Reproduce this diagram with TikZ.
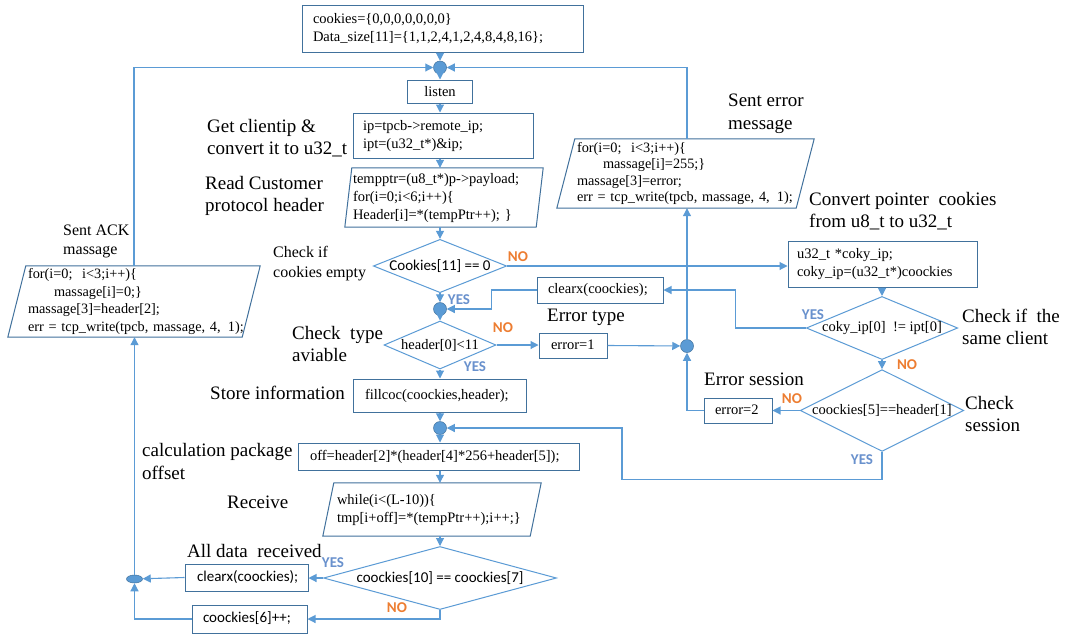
\documentclass[tikz,border=0pt]{standalone}
\usepackage{fontspec}
\setmainfont{Liberation Serif}
\newfontfamily\calibrifam{Carlito}
\usetikzlibrary{arrows.meta,shapes.geometric}

\definecolor{flowblue}{RGB}{91,155,213}
\definecolor{edgeblue}{RGB}{65,113,156}
\definecolor{noorange}{RGB}{237,125,49}
\definecolor{yestext}{RGB}{105,145,205}

\newcommand{\codesize}{\fontsize{14.5}{18}\selectfont}
\newcommand{\codeack}{\fontsize{14.3}{17.5}\selectfont}
\newcommand{\codeerr}{\fontsize{14.3}{16.5}\selectfont}
\newcommand{\lblfont}{\fontsize{19}{22.5}\selectfont}
\newcommand{\lblsmall}{\fontsize{16}{19.5}\selectfont}
\newcommand{\sansbox}{\calibrifam\fontsize{15}{18}\selectfont}
\newcommand{\ynfont}{\calibrifam\bfseries\fontsize{15}{15}\selectfont}
\newcommand{\codelines}[1]{\begin{tabular}{@{}l@{}}#1\end{tabular}}

\tikzset{
  box/.style={draw=edgeblue, line width=1pt, align=left, inner ysep=0pt, font=\codesize},
  cbox/.style={draw=edgeblue, line width=1pt, align=center, inner sep=0pt, font=\codesize},
  para/.style={align=left, inner ysep=0pt, font=\codesize},
  paraline/.style={draw=edgeblue, line width=1pt},
  dec/.style={diamond, draw=flowblue, line width=1pt, inner sep=0pt, font=\codesize},
  junc/.style={circle, fill=flowblue, draw=edgeblue, line width=0.5pt, minimum size=13pt, inner sep=0pt},
  flow/.style={draw=flowblue, line width=1.1pt, -{Triangle[length=8pt,width=8pt]}},
  lbl/.style={anchor=west, align=left, inner sep=0pt, font=\lblfont},
  lbls/.style={lbl, font=\lblsmall},
  no/.style={text=noorange, font=\ynfont, inner sep=0pt},
  yes/.style={text=yestext, font=\ynfont, inner sep=0pt}
}

\begin{document}
\begin{tikzpicture}[x=1pt,y=-1pt]
\fill[white] (0,0) rectangle (1065,635);
\useasboundingbox (0,0) rectangle (1065,635);

% ---- main column ----
\node[box, minimum height=47, inner xsep=11, text width=259] (init) at (442.5,28.5)
  {\codelines{cookies=\{0,0,0,0,0,0,0\}\\Data\_size[11]=\{1,1,2,4,1,2,4,8,4,8,16\};}};
\node[junc] (J0) at (440,67.5) {};
\node[cbox, minimum width=65, minimum height=23] (listen) at (440,91.5) {listen};
\node[box, minimum height=45, inner xsep=10, text width=160] (ip) at (443,135.5)
  {\codelines{ip=tpcb->remote\_ip;\\ipt=(u32\_t*)\&ip;}};
\node[para, minimum height=59, inner xsep=8, text width=182] (read) at (444,197.5)
  {\codelines{tempptr=(u8\_t*)p->payload;\\for(i=0;i<6;i++)\{\\Header[i]=*(tempPtr++);\ \}}};
\draw[paraline] ([xshift=7]read.north west) -- (read.north east)
  -- ([xshift=-7]read.south east) -- (read.south west) -- cycle;
\node[dec, font=\sansbox, minimum width=132, minimum height=52, aspect=2.5] (d1) at (440,266) {Cookies[11] == 0};
\node[junc] (J1) at (440,309) {};
\node[dec, minimum width=112, minimum height=48, aspect=2.3] (d2) at (440,345) {header[0]<11};
\node[box, minimum height=33, inner xsep=12, text width=149] (store) at (439.5,395.5)
  {\codelines{fillcoc(coockies,header);}};
\node[junc] (J2) at (440,428) {};
\node[box, minimum height=27, inner xsep=12, text width=257] (off) at (438.5,456.5)
  {\codelines{off=header[2]*(header[4]*256+header[5]);}};
\node[para, minimum height=53, inner xsep=14, text width=190] (recv) at (432,509.5)
  {\codelines{while(i<(L-10))\{\\tmp[i+off]=*(tempPtr++);i++;\}}};
\draw[paraline] ([xshift=11]recv.north west) -- (recv.north east)
  -- ([xshift=-11]recv.south east) -- (recv.south west) -- cycle;
\node[dec, font=\sansbox, minimum width=233, minimum height=63, aspect=3.7] (d3) at (440,578) {coockies[10] == coockies[7]};
\node[box, font=\sansbox, minimum height=27, inner xsep=12, text width=99] (clr2) at (246.5,577.5)
  {\codelines{clearx(coockies);}};
\node[box, font=\sansbox, minimum height=28, inner xsep=11, text width=93] (inc) at (249.5,619)
  {\codelines{coockies[6]++;}};
\node[ellipse, fill=flowblue, draw=edgeblue, line width=0.5pt, minimum width=16, minimum height=8, inner sep=0pt] (J3) at (134.5,579) {};

% ---- acknowledgement ----
\node[para, font=\codeack, minimum height=71, inner xsep=20, text width=212] (ack) at (134,301.5)
  {\codelines{for(i=0;\ \ i<3;i++)\{\\\hspace*{26pt}massage[i]=0;\}\\massage[3]=header[2];\\err = tcp\_write(tpcb, massage, 4,\, 1);}};
\draw[paraline] ([xshift=18]ack.north west) -- (ack.north east)
  -- ([xshift=-18]ack.south east) -- (ack.south west) -- cycle;

% ---- error branch ----
\node[para, font=\codeerr, minimum height=69, inner xsep=20, text width=217] (errmsg) at (685.5,173.5)
  {\codelines{for(i=0;\ \ i<3;i++)\{\\\hspace*{26pt}massage[i]=255;\}\\massage[3]=error;\\err = tcp\_write(tpcb, massage, 4,\, 1);}};
\draw[paraline] ([xshift=18]errmsg.north west) -- (errmsg.north east)
  -- ([xshift=-18]errmsg.south east) -- (errmsg.south west) -- cycle;
\node[box, minimum height=26, inner xsep=11, text width=104] (clr1) at (600,290) {\codelines{clearx(coockies);}};
\node[box, minimum height=25, inner xsep=12, text width=44] (err1) at (573,345.5) {\codelines{error=1}};
\node[junc] (J4) at (687,346) {};
\node[box, minimum height=25, inner xsep=11, text width=46] (err2) at (738,410.5) {\codelines{error=2}};

% ---- session checks ----
\node[box, minimum height=46, inner xsep=9, text width=171] (u32) at (882.5,264)
  {\codelines{u32\_t *coky\_ip;\\coky\_ip=(u32\_t*)coockies}};
\node[dec, minimum width=148, minimum height=62, aspect=2.4] (d4) at (882,328) {coky\_ip[0]\ \ != ipt[0]};
\node[dec, minimum width=161, minimum height=80, aspect=2] (d5) at (882,410.5) {coockies[5]==header[1]};

% ---- captions ----
\node[lbl] (lsent) at (728,114) {Sent error\\message};
\node[lbl] (lget) at (207,138) {Get clientip \&\\convert it to u32\_t};
\node[lbl] (lread) at (205,196) {Read Customer\\protocol header};
\node[lbls] (lack) at (63,241.5) {Sent ACK\\massage};
\node[lbls] (lchk1) at (273,263.5) {Check if\\cookies empty};
\node[lbl] (lchk2) at (292,344) {Check\ \ type\\aviable};
\node[lbl] (lerrt) at (547,317) {Error type};
\node[lbl] (lstore) at (210,393) {Store information};
\node[lbl] (lerrs) at (704,379) {Error session};
\node[lbl] (lconv) at (809,211) {Convert pointer\ \ cookies\\from u8\_t to u32\_t};
\node[lbl] (lsame) at (962,327) {Check if\ \ the\\same client};
\node[lbl] (lsess) at (965,414) {Check\\session};
\node[lbl] (lcalc) at (142,461.5) {calculation package\\offset};
\node[lbl] (lrecv) at (227,502) {Receive};
\node[lbl] (lall) at (187,551) {All data\ \ received};

% ---- branch marks ----
\node[no] (no1) at (518,257) {NO};
\node[yes] (yes1) at (459,300) {YES};
\node[no] (no2) at (503,328) {NO};
\node[yes] (yes2) at (475,367) {YES};
\node[yes] (yes3) at (813,315) {YES};
\node[no] (no3) at (907,365) {NO};
\node[no] (no4) at (792,399) {NO};
\node[yes] (yes4) at (862,460) {YES};
\node[yes] (yes5) at (333,563) {YES};
\node[no] (no5) at (397,608) {NO};

% ---- connectors ----
\draw[flow] (init.south -| J0) -- (J0);
\draw[flow] (ack.north) -- (ack.north |- J0) -- (J0);
\draw[flow] (errmsg.north -| J4) -- (J4 |- J0) -- (J0);
\draw[flow] (J0) -- (listen);
\draw[flow] (listen.south -| J0) -- (ip.north -| J0);
\draw[flow] (ip.south -| J0) -- (read.north -| J0);
\draw[flow] (read.south -| J0) -- (d1.north);
\draw[flow] (d1.east) -- (d1.east -| u32.west);
\draw[flow] (d1.south) -- (J1);
\draw[flow] (J1) -- (d2.north);
\draw[flow] (d2.east) -- (d2.east -| err1.west);
\draw[flow] (d2.south) -- (store.north -| J0);
\draw[flow] (store.south -| J0) -- (J2);
\draw[flow] (J2) -- (off.north -| J0);
\draw[flow] (off.south -| J0) -- (recv.north -| J0);
\draw[flow] (recv.south -| J0) -- (d3.north);
\draw[flow] (d3.west) -- (d3.west -| clr2.east);
\draw[flow] (clr2.west) -- (J3);
\draw[flow] (d3.south) -- (d3.south |- inc.east) -- (inc.east);
\draw[flow] (inc.west) -| (J3);
\draw[flow] (J3) -- (J3 |- ack.south);
\draw[flow] (err1.east) -- (J4);
\draw[flow] (err2.west) -| (J4);
\draw[flow] (J4) -- (J4 |- errmsg.south);
\draw[flow] (u32.south -| d4) -- (d4.north);
\draw[flow] (d4.south) -- (d5.north);
\draw[flow] (d4.west) -- ++(-70,0) |- (clr1.east);
\draw[flow] (clr1.west) -- ++(-45,0) |- (J1);
\draw[flow] (d5.west) -- (d5.west -| err2.east);
\draw[flow] (d5.south) -- ++(0,28) -- ++(-260,0) |- (J2);
\end{tikzpicture}
\end{document}
